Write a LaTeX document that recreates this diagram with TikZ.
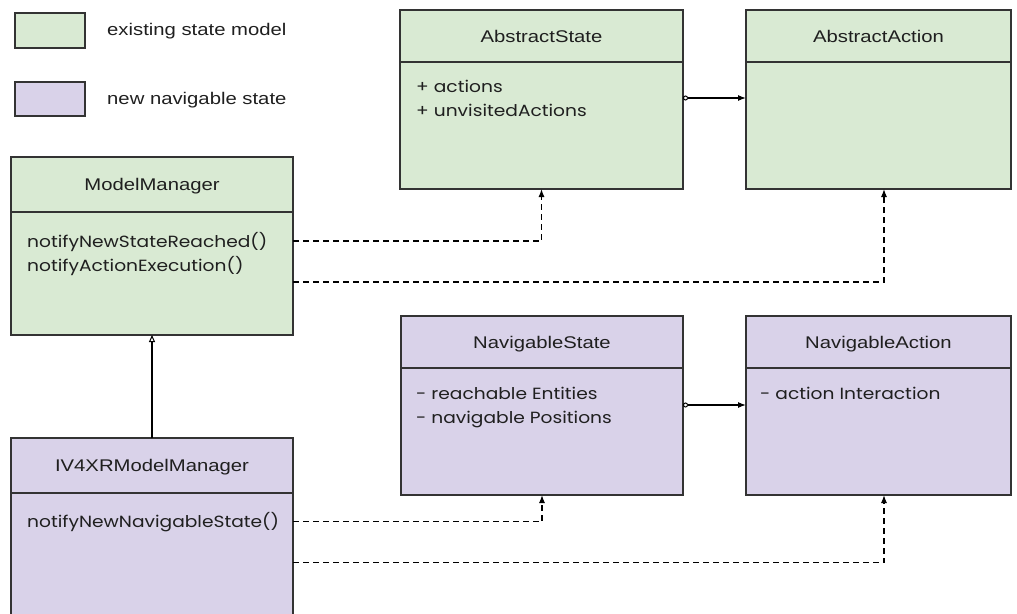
\documentclass[tikz,border=0pt]{standalone}
\usepackage{fontspec}
\setmainfont{Liberation Sans}
\newfontfamily\hdrfont[FakeStretch=1.2]{Liberation Sans}
\newfontfamily\bodyfont[FakeStretch=1.15]{Poppins}
\usetikzlibrary{arrows.meta}
\definecolor{gfill}{HTML}{D9EAD3}
\definecolor{pfill}{HTML}{D9D2E9}
\definecolor{edgec}{HTML}{333333}
\definecolor{txtc}{HTML}{1F1F1F}
\tikzset{
  box/.style={draw=edgec, line width=1.5pt, inner sep=0pt, outer sep=0pt, anchor=north west},
  hdr/.style={box, text=txtc, font=\hdrfont\fontsize{16.9}{20}\selectfont, text depth=-1pt},
  bodytxt/.style={anchor=north west, inner sep=0pt, align=left, text=txtc,
    font=\bodyfont\fontsize{16.2}{23.8}\selectfont},
  legtxt/.style={anchor=west, inner sep=0pt, text=txtc, font=\hdrfont\fontsize{16.9}{20}\selectfont},
  dep/.style={draw=black, line width=1.2pt, dash pattern=on 6pt off 4pt,
    -{Latex[length=8pt,width=6pt]}},
  agg/.style={draw=black, line width=1.2pt,
    {Circle[open,length=5pt,width=5pt,line width=1pt]}-{Latex[length=8pt,width=6pt]}},
  inh/.style={draw=black, line width=1.3pt, -{Triangle[open,length=7pt,width=6pt,line width=1pt]}}
}
\begin{document}
\begin{tikzpicture}[x=1pt,y=-1pt]
\useasboundingbox (0,0) rectangle (1017,613);
% legend
\node[box, fill=gfill, minimum width=70pt, minimum height=35pt] (lg) at (15,13) {};
\node[legtxt] (lgt) at (107,31.5) {existing state model};
\node[box, fill=pfill, minimum width=70pt, minimum height=34pt] (lp) at (15,82) {};
\node[legtxt] (lpt) at (107,100.5) {new navigable state};
% AbstractState
\node[hdr, fill=gfill, minimum width=283pt, minimum height=52pt] (asH) at (400,10) {AbstractState};
\node[box, fill=gfill, minimum width=283pt, minimum height=127pt] (asB) at (400,62) {};
\node[bodytxt] (asT) at (416,80) {+ actions\\+ unvisitedActions};
% AbstractAction
\node[hdr, fill=gfill, minimum width=265pt, minimum height=52pt] (aaH) at (746,10) {AbstractAction};
\node[box, fill=gfill, minimum width=265pt, minimum height=127pt] (aaB) at (746,62) {};
% ModelManager
\node[hdr, fill=gfill, minimum width=282pt, minimum height=55pt] (mmH) at (11,157) {ModelManager};
\node[box, fill=gfill, minimum width=282pt, minimum height=123pt] (mmB) at (11,212) {};
\node[bodytxt] (mmT) at (27,232.5) {notifyNewStateReached()\\notifyActionExecution()};
% NavigableState
\node[hdr, fill=pfill, minimum width=282pt, minimum height=52pt] (nsH) at (401,316) {NavigableState};
\node[box, fill=pfill, minimum width=282pt, minimum height=127pt] (nsB) at (401,368) {};
\node[bodytxt] (nsT) at (416,387) {- reachable Entities\\- navigable Positions};
% NavigableAction
\node[hdr, fill=pfill, minimum width=265pt, minimum height=52pt] (naH) at (746,316) {NavigableAction};
\node[box, fill=pfill, minimum width=265pt, minimum height=127pt] (naB) at (746,368) {};
\node[bodytxt] (naT) at (760,387) {- action Interaction};
% IV4XRModelManager
\node[hdr, fill=pfill, minimum width=282pt, minimum height=55pt] (ivH) at (11,438) {IV4XRModelManager};
\node[box, fill=pfill, minimum width=282pt, minimum height=132pt] (ivB) at (11,493) {};
\node[bodytxt] (ivT) at (27,512.5) {notifyNewNavigableState()};
% connectors
\draw[agg] ([yshift=27.5pt]asB.east) -- ([yshift=27.5pt]aaB.west);
\draw[agg] ([yshift=26.5pt]nsB.east) -- ([yshift=26.5pt]naB.west);
\draw[inh] (ivH.north) -- (mmB.south);
\draw[dep] ([yshift=32.5pt]mmB.east) -| (asB.south);
\draw[dep] ([yshift=-8.5pt]mmB.east) -| ([xshift=5.5pt]aaB.south);
\draw[dep] ([yshift=37.5pt]ivB.east) -| (nsB.south);
\draw[dep] ([yshift=-3.5pt]ivB.east) -| ([xshift=5.5pt]naB.south);
\end{tikzpicture}
\end{document}
